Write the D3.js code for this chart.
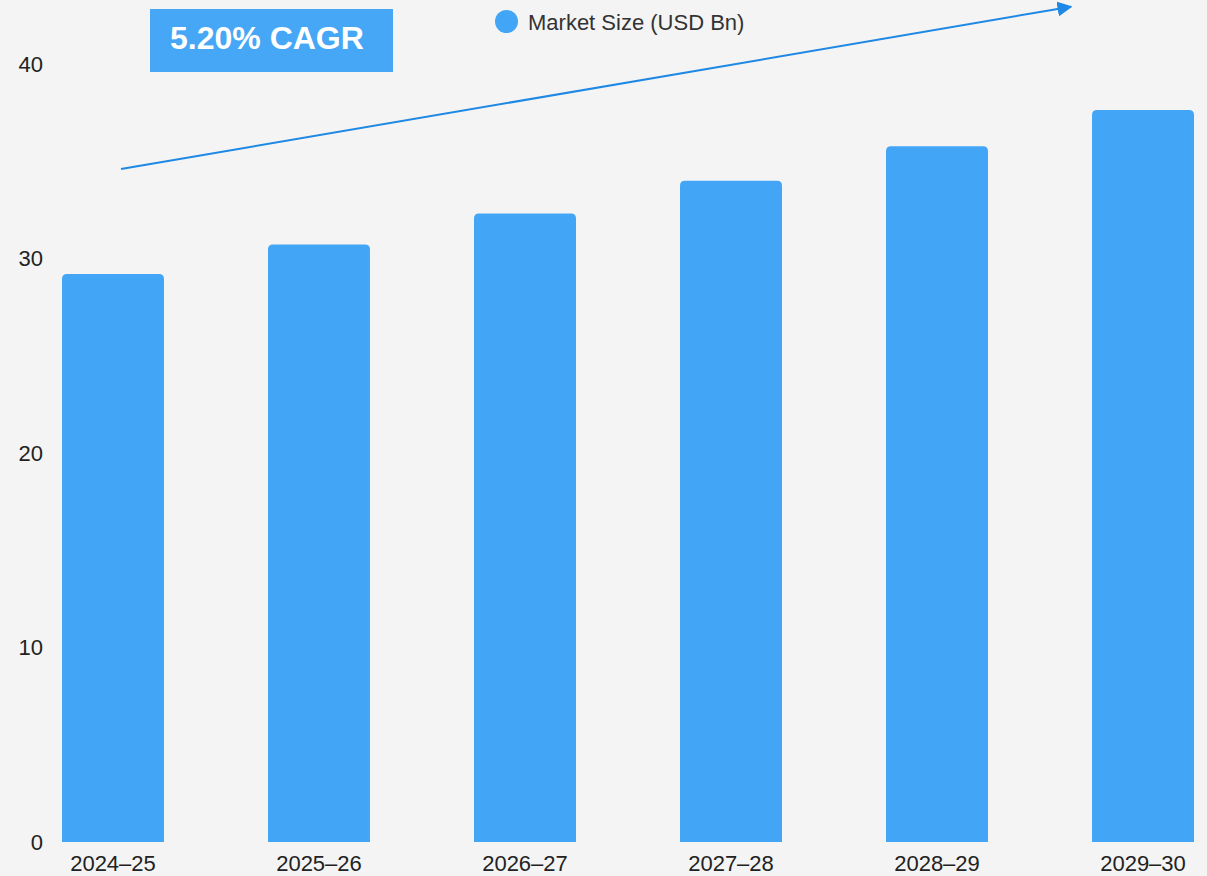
<!DOCTYPE html>
<html>
<head>
<meta charset="utf-8">
<script src="https://cdn.jsdelivr.net/npm/d3@7"></script>
<style>
  html, body { margin: 0; padding: 0; background: #f4f4f4; }
  svg { display: block; font-family: "Liberation Sans", Arial, sans-serif; }
</style>
</head>
<body>
<div id="chart"></div>
<script>
// data
let years = ['2024–25', '2025–26', '2026–27', '2027–28', '2028–29', '2029–30'];
let marketSize = [29.2, 30.72, 32.32, 34.0, 35.77, 37.63];
let yTicks = [0, 10, 20, 30, 40];
let seriesName = 'Market Size (USD Bn)';
let cagrLabel = '5.20% CAGR';

let W = 1207, H = 876;
let barColor = '#42a5f5';

let svg = d3.select('#chart').append('svg')
    .attr('width', W)
    .attr('height', H);

svg.append('rect').attr('width', W).attr('height', H).attr('fill', '#f4f4f4');

let xScale = d3.scaleBand()
    .domain(years)
    .range([10.5, 1245.5])
    .paddingInner(0.505)
    .paddingOuter(0.25);

let yScale = d3.scaleLinear()
    .domain([0, 40])
    .range([842, 64]);

// y tick labels (no axis line)
svg.append('g')
    .selectAll('text')
    .data(yTicks)
    .join('text')
    .attr('x', 43)
    .attr('y', d => yScale(d))
    .attr('dy', '0.36em')
    .attr('text-anchor', 'end')
    .attr('font-size', 22)
    .attr('fill', '#222')
    .text(d => d);

// bars, rounded top corners only
let r = 5;
let barPath = function(d, i){
    let x0 = xScale(years[i]), x1 = x0 + xScale.bandwidth();
    let y0 = yScale(0), y1 = yScale(d);
    return `M${x0},${y0}V${y1 + r}Q${x0},${y1} ${x0 + r},${y1}H${x1 - r}Q${x1},${y1} ${x1},${y1 + r}V${y0}Z`;
}

svg.append('g')
    .selectAll('path')
    .data(marketSize)
    .join('path')
    .attr('d', barPath)
    .attr('fill', barColor);

// x labels
svg.append('g')
    .selectAll('text')
    .data(years)
    .join('text')
    .attr('x', d => xScale(d) + xScale.bandwidth() / 2)
    .attr('y', 871)
    .attr('text-anchor', 'middle')
    .attr('font-size', 22)
    .attr('fill', '#222')
    .text(d => d);

// legend
svg.append('circle')
    .attr('cx', 506.5).attr('cy', 21.5).attr('r', 11.5)
    .attr('fill', barColor);
svg.append('text')
    .attr('x', 528).attr('y', 29.5)
    .attr('font-size', 22)
    .attr('fill', '#333')
    .text(seriesName);

// CAGR badge
svg.append('rect')
    .attr('x', 150).attr('y', 9).attr('width', 243).attr('height', 63)
    .attr('fill', '#45a7f5');
svg.append('text')
    .attr('x', 170).attr('y', 49)
    .attr('font-size', 32)
    .attr('font-weight', 'bold')
    .attr('fill', '#fff')
    .text(cagrLabel);

// trend arrow
svg.append('defs').append('marker')
    .attr('id', 'arrowHead')
    .attr('viewBox', '0 0 10 10')
    .attr('refX', 9).attr('refY', 5)
    .attr('markerWidth', 7.5).attr('markerHeight', 7.5)
    .attr('markerUnits', 'strokeWidth')
    .attr('orient', 'auto')
    .append('path')
    .attr('d', 'M0,0L10,5L0,10Z')
    .attr('fill', '#1e88e5');

svg.append('line')
    .attr('x1', 121).attr('y1', 169)
    .attr('x2', 1071).attr('y2', 6.7)
    .attr('stroke', '#1e88e5')
    .attr('stroke-width', 2)
    .attr('marker-end', 'url(#arrowHead)');
</script>
</body>
</html>
